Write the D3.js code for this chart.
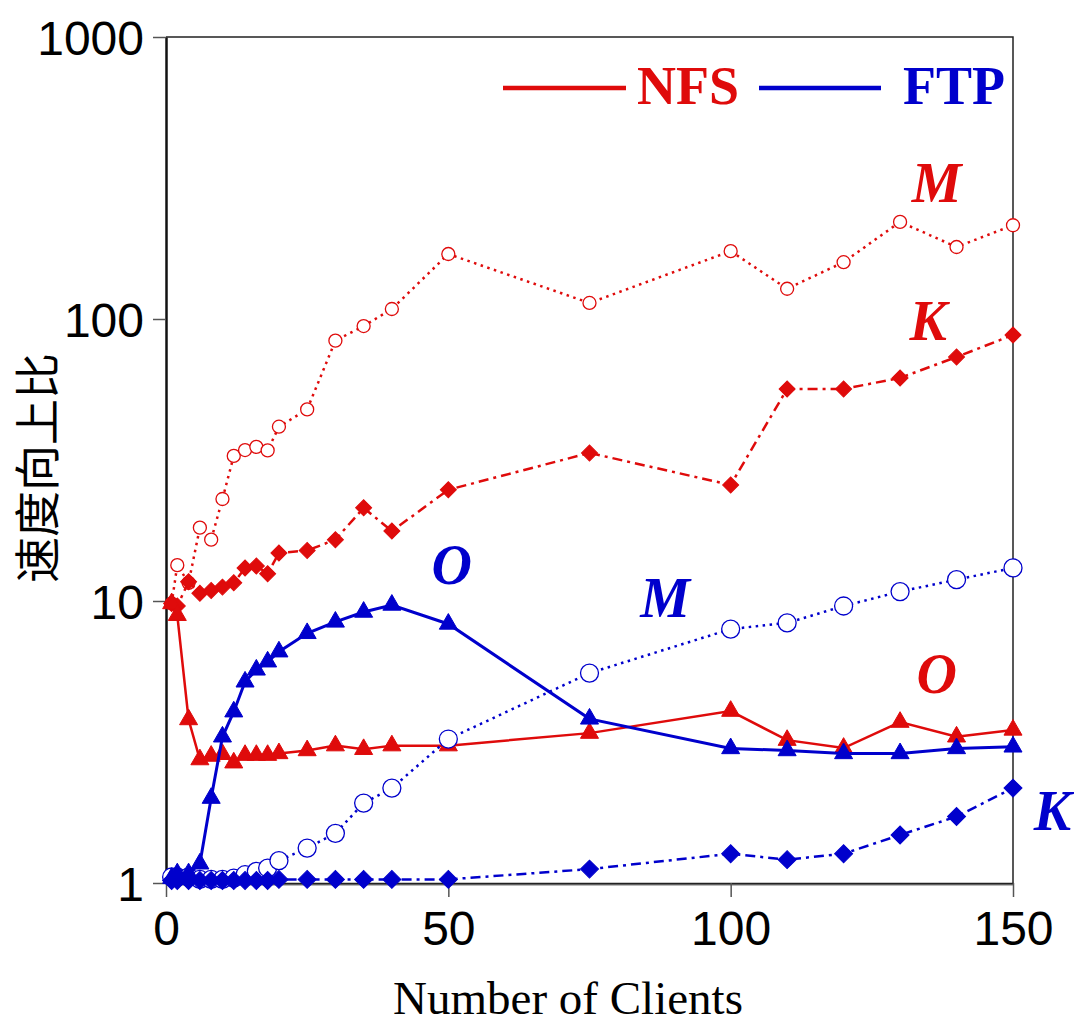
<!DOCTYPE html>
<html>
<head>
<meta charset="utf-8">
<script src="https://cdn.jsdelivr.net/npm/d3@7"></script>
<style>
  body { margin: 0; background: #fff; }
  svg { display: block; }
</style>
</head>
<body>
<svg id="chart"></svg>
<script>
// client counts
const clients = [1, 2, 4, 6, 8, 10, 12, 14, 16, 18, 20, 25, 30, 35, 40, 50, 75, 100, 110, 120, 130, 140, 150];

// speed-up ratios
const nfsM = [9.8, 13.4, 11.6, 18.2, 16.5, 23.0, 32.7, 34.3, 35.2, 34.2, 41.5, 47.8, 83.8, 94.4, 108.5, 170, 114, 174, 128, 159, 221, 180, 215];
const nfsK = [9.8, 9.6, 11.7, 10.65, 10.9, 11.2, 11.6, 13.1, 13.3, 12.5, 14.8, 15.1, 16.5, 21.4, 17.7, 24.8, 33.5, 25.8, 56.5, 56.5, 61.8, 73.3, 87.8];
const nfsO = [9.8, 8.9, 3.8, 2.74, 2.82, 2.86, 2.67, 2.84, 2.84, 2.84, 2.88, 2.95, 3.07, 2.98, 3.07, 3.07, 3.4, 4.07, 3.21, 3.01, 3.72, 3.3, 3.49];
const ftpM = [1.05, 1.05, 1.05, 1.03, 1.03, 1.03, 1.04, 1.07, 1.1, 1.13, 1.2, 1.33, 1.5, 1.92, 2.17, 3.24, 5.55, 7.95, 8.36, 9.6, 10.8, 11.9, 13.1];
const ftpK = [1.02, 1.02, 1.02, 1.02, 1.02, 1.02, 1.02, 1.02, 1.02, 1.02, 1.03, 1.03, 1.03, 1.03, 1.03, 1.03, 1.12, 1.27, 1.21, 1.27, 1.48, 1.72, 2.17];
const ftpO = [1.04, 1.08, 1.08, 1.17, 2.0, 3.3, 4.05, 5.17, 5.7, 6.09, 6.61, 7.68, 8.43, 9.14, 9.68, 8.29, 3.82, 3.0, 2.95, 2.88, 2.88, 3.0, 3.04];

const xTicks = [0, 50, 100, 150];
const yTicks = [1, 10, 100, 1000];

const RED = '#df0b0b';
const BLUE = '#0000cc';

const series = [
    {name: 'NFS M', values: nfsM, color: RED, marker: 'circle', r: 6.5, dash: '2.5,4.5', width: 2.5},
    {name: 'NFS K', values: nfsK, color: RED, marker: 'diamond', r: 8, dash: '10,5,3,5', width: 2.5},
    {name: 'NFS O', values: nfsO, color: RED, marker: 'triangle', r: 8, dash: null, width: 2.5},
    {name: 'FTP M', values: ftpM, color: BLUE, marker: 'circle', r: 9, dash: '2.5,4.5', width: 2.5},
    {name: 'FTP K', values: ftpK, color: BLUE, marker: 'diamond', r: 9, dash: '10,5,3,5', width: 2.5},
    {name: 'FTP O', values: ftpO, color: BLUE, marker: 'triangle', r: 8, dash: null, width: 3}
];

// series labels, placed in data units
const labels = [
    {text: 'M', x: 136.5, y: 260, color: RED},
    {text: 'K', x: 135, y: 84, color: RED},
    {text: 'O', x: 136.5, y: 4.7, color: RED},
    {text: 'O', x: 50.6, y: 11.5, color: BLUE},
    {text: 'M', x: 88.4, y: 8.8, color: BLUE},
    {text: 'K', x: 157, y: 1.54, color: BLUE}
];

const width = 1074, height = 1024;
const margin = {top: 37, right: 61, bottom: 141, left: 166};

const svg = d3.select('#chart')
    .attr('width', width)
    .attr('height', height);

const x = d3.scaleLinear()
    .domain([0, 150])
    .range([margin.left, width - margin.right]);

const y = d3.scaleLog()
    .domain([1, 1000])
    .range([height - margin.bottom, margin.top]);

// frame: top and right
svg.append('path')
    .attr('d', `M${x(0)},${y(1000)}H${x(150)}V${y(1)}`)
    .attr('fill', 'none')
    .attr('stroke', '#222')
    .attr('stroke-width', 1.5);

// bottom: axis plus grey reference line at 1
svg.append('line')
    .attr('x1', x(0)).attr('x2', x(150))
    .attr('y1', y(1) + 1.5).attr('y2', y(1) + 1.5)
    .attr('stroke', '#777')
    .attr('stroke-width', 2);

const xAxis = d3.axisBottom(x)
    .tickValues(xTicks)
    .tickSize(14)
    .tickPadding(14)
    .tickSizeOuter(0);

const yAxis = d3.axisLeft(y)
    .tickValues(yTicks)
    .tickFormat(d3.format('d'))
    .tickSize(13)
    .tickPadding(9)
    .tickSizeOuter(0);

svg.append('g')
    .attr('transform', `translate(0,${y(1)})`)
    .call(xAxis)
    .call(g => g.select('.domain').attr('stroke', '#222').attr('stroke-width', 1.5))
    .call(g => g.selectAll('.tick line').attr('stroke', '#555').attr('stroke-width', 1.5))
    .call(g => g.selectAll('.tick text')
        .attr('fill', '#000')
        .style('font-family', '"Liberation Sans", Arial, sans-serif')
        .style('font-size', '48px'));

svg.append('g')
    .attr('transform', `translate(${x(0)},0)`)
    .call(yAxis)
    .call(g => g.select('.domain').attr('stroke', '#111').attr('stroke-width', 2.5))
    .call(g => g.selectAll('.tick line').attr('stroke', '#555').attr('stroke-width', 1.5))
    .call(g => g.selectAll('.tick text')
        .attr('fill', '#000')
        .attr('dy', '0.36em')
        .style('font-family', '"Liberation Sans", Arial, sans-serif')
        .style('font-size', '48px'));

// axis titles
svg.append('text')
    .attr('x', 568)
    .attr('y', 1014)
    .attr('text-anchor', 'middle')
    .style('font-family', '"Liberation Serif", "Times New Roman", serif')
    .style('font-size', '47px')
    .text('Number of Clients');

svg.append('text')
    .attr('transform', `translate(54,${(y(1) + y(1000)) / 2 + 8}) rotate(-90)`)
    .attr('text-anchor', 'middle')
    .style('font-family', '"Noto Sans CJK SC", sans-serif')
    .style('font-size', '46px')
    .text('速度向上比');

// lines and markers
const line = d3.line()
    .x(d => x(d[0]))
    .y(d => y(d[1]));

const triangle = d3.symbol().type(d3.symbolTriangle);
const diamond = d3.symbol().type(d3.symbolSquare);

series.forEach(s => {
    const pts = clients.map((c, i) => [c, s.values[i]]);
    const g = svg.append('g').attr('class', 'series');

    g.append('path')
        .datum(pts)
        .attr('fill', 'none')
        .attr('stroke', s.color)
        .attr('stroke-width', s.width)
        .attr('stroke-dasharray', s.dash)
        .attr('d', line);

    const marks = g.selectAll('.mark')
        .data(pts)
        .join('path')
        .attr('class', 'mark');

    if (s.marker === 'circle') {
        marks.attr('d', d3.symbol().type(d3.symbolCircle).size(Math.PI * s.r * s.r))
            .attr('transform', d => `translate(${x(d[0])},${y(d[1])})`)
            .attr('fill', '#fff')
            .attr('stroke', s.color)
            .attr('stroke-width', 1.3);
    } else if (s.marker === 'diamond') {
        marks.attr('d', diamond.size(s.r * s.r * 2))
            .attr('transform', d => `translate(${x(d[0])},${y(d[1])}) rotate(45)`)
            .attr('fill', s.color)
            .attr('stroke', s.color)
            .attr('stroke-width', 1);
    } else {
        marks.attr('d', triangle.size(s.r * s.r * 2.2))
            .attr('transform', d => `translate(${x(d[0])},${y(d[1])})`)
            .attr('fill', s.color)
            .attr('stroke', s.color)
            .attr('stroke-width', 1);
    }
});

// series letters
svg.selectAll('.series-label')
    .data(labels)
    .join('text')
    .attr('class', 'series-label')
    .attr('x', d => x(d.x))
    .attr('y', d => y(d.y))
    .attr('text-anchor', 'middle')
    .attr('fill', d => d.color)
    .style('font-family', '"Liberation Serif", "Times New Roman", serif')
    .style('font-size', '56px')
    .style('font-weight', 'bold')
    .style('font-style', 'italic')
    .text(d => d.text);

// legend
const legend = [
    {text: 'NFS', color: RED, x1: 503, x2: 626, tx: 637},
    {text: 'FTP', color: BLUE, x1: 759, x2: 881, tx: 903}
];

const lg = svg.append('g').attr('class', 'legend');
lg.selectAll('line')
    .data(legend)
    .join('line')
    .attr('x1', d => d.x1).attr('x2', d => d.x2)
    .attr('y1', 88).attr('y2', 88)
    .attr('stroke', d => d.color)
    .attr('stroke-width', 4.5);

lg.selectAll('text')
    .data(legend)
    .join('text')
    .attr('x', d => d.tx)
    .attr('y', 104)
    .attr('fill', d => d.color)
    .style('font-family', '"Liberation Serif", "Times New Roman", serif')
    .style('font-size', '54px')
    .style('font-weight', 'bold')
    .text(d => d.text);
</script>
</body>
</html>
